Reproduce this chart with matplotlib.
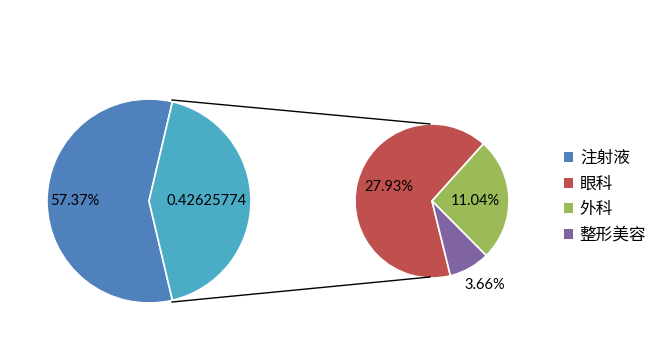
import matplotlib.pyplot as plt
from matplotlib.patches import Patch

plt.rcParams['font.family'] = ['Lato', 'Noto Sans CJK SC', 'DejaVu Sans']

# data
main_labels = ['注射液', '其他']
main_values = [57.37, 42.625774]
main_texts = ['57.37%', '0.42625774']

sub_labels = ['眼科', '外科', '整形美容']
sub_values = [27.93, 11.04, 3.66]
sub_texts = ['27.93%', '11.04%', '3.66%']

legend_labels = ['注射液', '眼科', '外科', '整形美容']

main_colors = ['#4F81BD', '#4BACC6']
sub_colors = ['#C0504D', '#9BBB59', '#8064A2']
legend_colors = ['#4F81BD', '#C0504D', '#9BBB59', '#8064A2']

W, H = 655, 358
fig = plt.figure(figsize=(W / 100, H / 100), dpi=100)
ax = fig.add_axes([0, 0, 1, 1])

# pixel-like coordinates
c1, r1 = (149, H - 201), 102
c2, r2 = (432, H - 201), 77

other_frac = main_values[1] / sum(main_values)
w1, _ = ax.pie(main_values, colors=main_colors, center=c1, radius=r1,
               startangle=-other_frac * 180, counterclock=False,
               wedgeprops=dict(edgecolor='white', linewidth=1.2))

# secondary pie: green slice begins at ~48 deg
red_frac = sub_values[0] / sum(sub_values)
w2, _ = ax.pie(sub_values, colors=sub_colors, center=c2, radius=r2,
               startangle=48 + red_frac * 360, counterclock=False,
               wedgeprops=dict(edgecolor='white', linewidth=1.2))

# connector lines
ax.plot([172, 430], [H - 100, H - 124], color='black', lw=1)
ax.plot([172, 430], [H - 302, H - 277], color='black', lw=1)

# data labels
fs = 10.5
ax.text(75, H - 201, main_texts[0], ha='center', va='center', fontsize=fs)
ax.text(207, H - 201, main_texts[1], ha='center', va='center', fontsize=fs)
ax.text(389, H - 187, sub_texts[0], ha='center', va='center', fontsize=fs)
ax.text(475, H - 201, sub_texts[1], ha='center', va='center', fontsize=fs)
ax.text(485, H - 285, sub_texts[2], ha='center', va='center', fontsize=fs)

handles = [Patch(facecolor=c, edgecolor='none') for c in legend_colors]
ax.legend(handles, legend_labels, loc='upper left', bbox_to_anchor=(564 / W, 1 - 150 / H),
          frameon=False, fontsize=12, handlelength=0.55, handleheight=0.55,
          handletextpad=0.4, labelspacing=0.58, borderpad=0, borderaxespad=0)

ax.set_xlim(0, W)
ax.set_ylim(0, H)
ax.set_aspect('equal')
ax.axis('off')

fig.savefig('out.png', dpi=100)
